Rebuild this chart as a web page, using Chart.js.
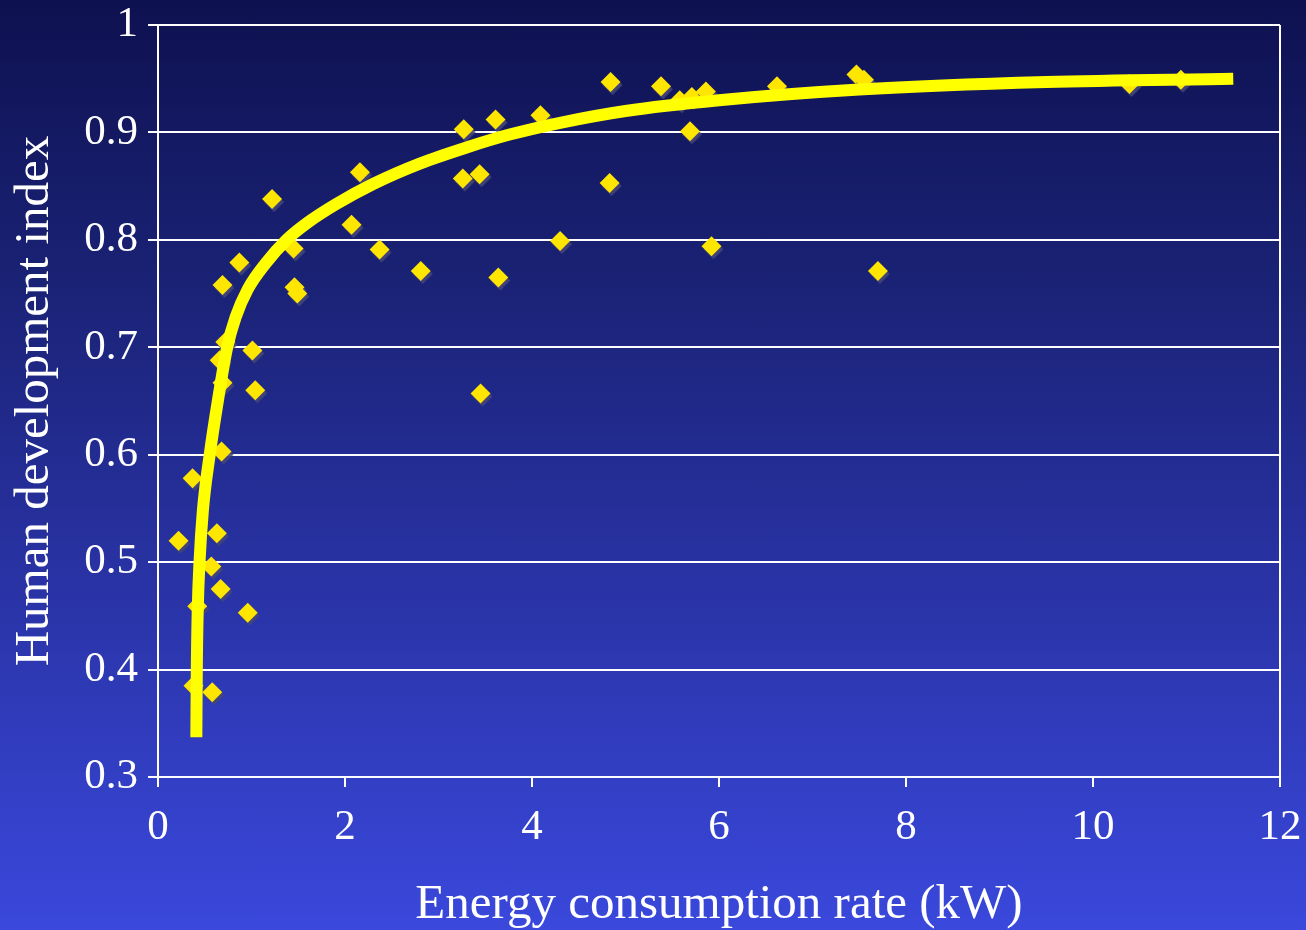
<!DOCTYPE html>
<html>
<head>
<meta charset="utf-8">
<script src="https://cdn.jsdelivr.net/npm/chart.js@4.4.1/dist/chart.umd.min.js"></script>
<style>
  html, body { margin: 0; padding: 0; }
  body {
    width: 1306px; height: 930px; overflow: hidden;
    background: linear-gradient(to bottom, #0e1150 0%, #1a2275 30%, #2a34a8 65%, #3a48dc 100%);
  }
  #chart { display: block; }
</style>
</head>
<body>
<canvas id="chart" width="1306" height="930"></canvas>
<script>
// Countries: energy consumption per person (kW) and human development index
const energyKW = [0.22, 0.37, 0.42, 0.38, 0.58, 0.57, 0.63, 0.67, 0.68, 0.69, 0.66, 0.72, 0.69, 0.87,
  0.96, 1.01, 1.04, 1.22, 1.45, 1.46, 1.49, 2.07, 2.16, 2.37, 2.81, 3.27, 3.26, 3.44, 3.45, 3.61, 3.64,
  4.09, 4.30, 4.84, 4.83, 5.38, 5.58, 5.71, 5.69, 5.86, 5.92, 6.62, 7.47, 7.55, 7.70, 10.39, 10.94];
const hdi = [0.520, 0.578, 0.459, 0.385, 0.379, 0.496, 0.527, 0.475, 0.603, 0.667, 0.688, 0.705, 0.758, 0.779,
  0.453, 0.697, 0.660, 0.838, 0.792, 0.756, 0.750, 0.814, 0.863, 0.791, 0.771, 0.903, 0.857, 0.861, 0.657, 0.912, 0.765,
  0.916, 0.799, 0.947, 0.853, 0.943, 0.930, 0.933, 0.901, 0.938, 0.794, 0.943, 0.954, 0.949, 0.771, 0.945, 0.949];

// Fitted trend curve
const trendKW = [0.41, 0.415, 0.425, 0.444, 0.48, 0.553, 0.64, 0.74, 0.83, 0.96, 1.15, 1.375,
  1.6, 1.9, 2.3, 2.8, 3.3, 3.76, 4.3, 5.0, 6.0, 7.5, 9.5, 11.5];
const trendHDI = [0.337, 0.400, 0.455, 0.500, 0.548, 0.600, 0.650, 0.700, 0.728, 0.754, 0.778, 0.800,
  0.816, 0.833, 0.852, 0.871, 0.886, 0.898, 0.909, 0.920, 0.930, 0.940, 0.947, 0.950];

// Axis ticks
const xTicks = [0, 2, 4, 6, 8, 10, 12];
const yTicks = [0.3, 0.4, 0.5, 0.6, 0.7, 0.8, 0.9, 1];

const serif = '"Liberation Serif", "Times New Roman", Times, serif';

const points = energyKW.map((x, i) => ({ x, y: hdi[i] }));
const trend = trendKW.map((x, i) => ({ x, y: trendHDI[i] }));

// Soft drop shadow under the diamond markers
const markerShadow = {
  id: 'markerShadow',
  beforeDatasetDraw(chart, args) {
    if (args.index === 0) {
      const c = chart.ctx;
      c.save();
      c.shadowColor = 'rgba(70, 70, 120, 0.9)';
      c.shadowOffsetX = 2;
      c.shadowOffsetY = 3;
      c.shadowBlur = 1;
    }
  },
  afterDatasetDraw(chart, args) {
    if (args.index === 0) chart.ctx.restore();
  }
};

new Chart(document.getElementById('chart'), {
  type: 'scatter',
  data: {
    datasets: [
      {
        data: points,
        pointStyle: 'rectRot',
        pointRadius: 10,
        pointHoverRadius: 10,
        backgroundColor: '#ffe600',
        borderColor: '#ffe600',
        borderWidth: 0,
        order: 1
      },
      {
        type: 'line',
        data: trend,
        showLine: true,
        borderColor: '#ffff00',
        borderWidth: 12,
        borderCapStyle: 'butt',
        cubicInterpolationMode: 'monotone',
        pointRadius: 0,
        fill: false,
        order: 0
      }
    ]
  },
  options: {
    responsive: false,
    animation: false,
    devicePixelRatio: 1,
    layout: { padding: { top: 25, right: 26, left: 0, bottom: 0 } },
    plugins: { legend: { display: false }, tooltip: { enabled: false } },
    scales: {
      x: {
        type: 'linear',
        min: 0, max: 12,
        afterBuildTicks(scale) { scale.ticks = xTicks.map(v => ({ value: v })); },
        afterFit(scale) {
          scale.height = 153;
          scale.paddingLeft = 0;
          scale.paddingRight = 0;
        },
        grid: {
          drawOnChartArea: true,
          color: ctx => (ctx.tick && ctx.tick.value === 12) ? '#ffffff' : 'rgba(0,0,0,0)',
          lineWidth: 2,
          tickColor: '#ffffff',
          tickLength: 10
        },
        border: { display: true, color: '#ffffff', width: 2 },
        ticks: {
          color: '#ffffff',
          font: { family: serif, size: 43 },
          padding: 15,
          maxRotation: 0
        },
        title: {
          display: true,
          text: 'Energy consumption rate (kW)',
          color: '#ffffff',
          font: { family: serif, size: 49, lineHeight: 1 },
          padding: { top: 0, bottom: 0 }
        }
      },
      y: {
        type: 'linear',
        min: 0.3, max: 1,
        afterBuildTicks(scale) { scale.ticks = yTicks.map(v => ({ value: v })); },
        afterFit(scale) {
          scale.width = 158;
          scale.paddingTop = 0;
          scale.paddingBottom = 0;
        },
        grid: {
          color: '#ffffff',
          lineWidth: 2,
          tickColor: '#ffffff',
          tickLength: 10
        },
        border: { display: true, color: '#ffffff', width: 2 },
        ticks: {
          color: '#ffffff',
          font: { family: serif, size: 43 },
          padding: 10,
          callback: v => (v === 1 ? '1' : v.toFixed(1))
        },
        title: {
          display: true,
          text: 'Human development index',
          color: '#ffffff',
          font: { family: serif, size: 49 },
          padding: { top: 6, bottom: 0 }
        }
      }
    }
  },
  plugins: [markerShadow]
});
</script>
</body>
</html>
